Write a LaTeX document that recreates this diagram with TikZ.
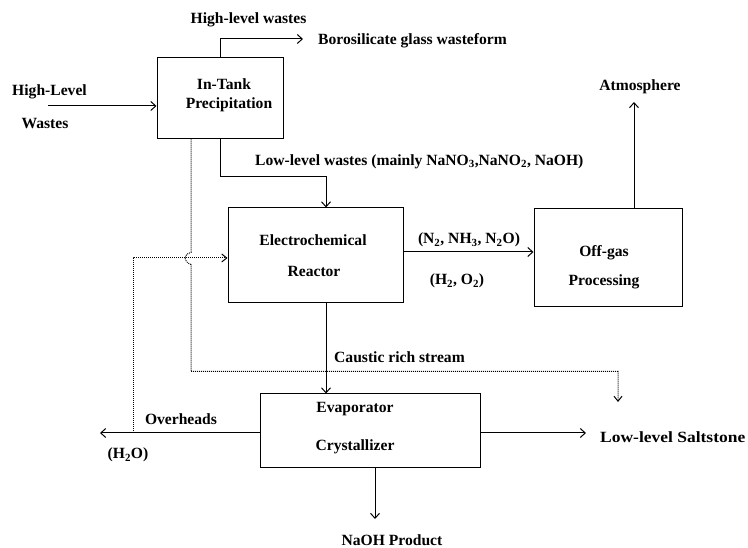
\documentclass[tikz,border=0pt]{standalone}
\usepackage{fontspec}
\setmainfont{Liberation Serif}
\usetikzlibrary{arrows.meta,calc}
\begin{document}
\begin{tikzpicture}[x=1pt,y=-1pt,
  box/.style={draw,line width=1pt,inner sep=0pt,minimum width=#1},
  lbl/.style={inner sep=0pt,font=\fontsize{15.6}{18}\selectfont\bfseries},
  flow/.style={line width=1pt,-{Straight Barb[length=5pt,width=9pt,line width=1pt]}},
  dotflow/.style={line width=1pt,dash pattern=on 1pt off 1pt,-{Straight Barb[length=5pt,width=8pt,line width=1pt]}}]
\useasboundingbox (0,0) rectangle (748,548);
\fill[white] (0,0) rectangle (748,548);

% boxes
\node[box=126pt,minimum height=81pt] (tank) at (220,98.5) {};
\node[box=175pt,minimum height=95pt] (reactor) at (315.5,255.5) {};
\node[box=148pt,minimum height=98pt] (offgas) at (608,258) {};
\node[box=220pt,minimum height=73pt] (evap) at (370,430.5) {};

% box texts
\node[lbl] (tankA) at (224,84) {In-Tank};
\node[lbl] (tankB) at (229,105) {Precipitation};
\node[lbl] (reacA) at (313,240) {Electrochemical};
\node[lbl] (reacB) at (314,271) {Reactor};
\node[lbl] (offA) at (604,253) {Off-gas};
\node[lbl] (offB) at (604,282) {Processing};
\node[lbl] (evapA) at (355,409) {Evaporator};
\node[lbl] (evapB) at (355,447) {Crystallizer};

% free labels
\node[lbl] (hlwA) at (49.5,92) {High-Level};
\node[lbl] (hlwB) at (45,124) {Wastes};
\node[lbl] (hlwtop) at (248.5,20) {High-level wastes};
\node[lbl,anchor=west] (boro) at (318,41) {Borosilicate glass wasteform};
\node[lbl,anchor=west] (llw) at (255,162) {Low-level wastes (mainly NaNO\textsubscript{3},NaNO\textsubscript{2}, NaOH)};
\node[lbl] (atmos) at (640,87) {Atmosphere};
\node[lbl] (gasA) at (469,240) {(N\textsubscript{2}, NH\textsubscript{3}, N\textsubscript{2}O)};
\node[lbl] (gasB) at (457,281) {(H\textsubscript{2}, O\textsubscript{2})};
\node[lbl,anchor=west] (caustic) at (334,357) {Caustic rich stream};
\node[lbl] (overh) at (181,419) {Overheads};
\node[lbl] (water) at (128,455) {(H\textsubscript{2}O)};
\node[lbl,anchor=west] (salt) at (600,437) {\scalebox{1.12}[1]{Low-level Saltstone}};
\node[lbl] (naoh) at (392,540) {NaOH Product};

% free ends
\coordinate (inW) at (48,106);
\coordinate (boroEnd) at (303,39);
\coordinate (llBend) at (326,177);
\coordinate (atmEnd) at (634,102);
\coordinate (ovhEnd) at (100,433);
\coordinate (saltEnd) at (586,433);
\coordinate (naohEnd) at (375,519);
\coordinate (dotEnd) at (618,402);
\coordinate (recyc) at (133,433);

% solid flows
\draw[flow] (inW) -- (inW -| tank.west);
\draw[flow] (tank.north) |- (boroEnd);
\draw[flow] (tank.south) |- (llBend) -- (llBend |- reactor.north);
\draw[flow] ([yshift=3.5pt]reactor.east) -- ([yshift=3.5pt]reactor.east -| offgas.west);
\draw[flow] (atmEnd |- offgas.north) -- (atmEnd);
\draw[flow] (llBend |- reactor.south) -- (llBend |- evap.north);
\draw[flow] (evap.west |- ovhEnd) -- (ovhEnd);
\draw[flow] (evap.east |- saltEnd) -- (saltEnd);
\draw[flow] (naohEnd |- evap.south) -- (naohEnd);

% dotted flows
\draw[dotflow] ([xshift=-29pt]tank.south) -- ++(0,113)
  .. controls ++(-8,2) and ++(-8,-3) .. ++(0,12)
  -- ++(0,107) -| (dotEnd);
\draw[dotflow] (recyc) -- ++(0,-175) -- (reactor.west |- 0,258);
\end{tikzpicture}
\end{document}
